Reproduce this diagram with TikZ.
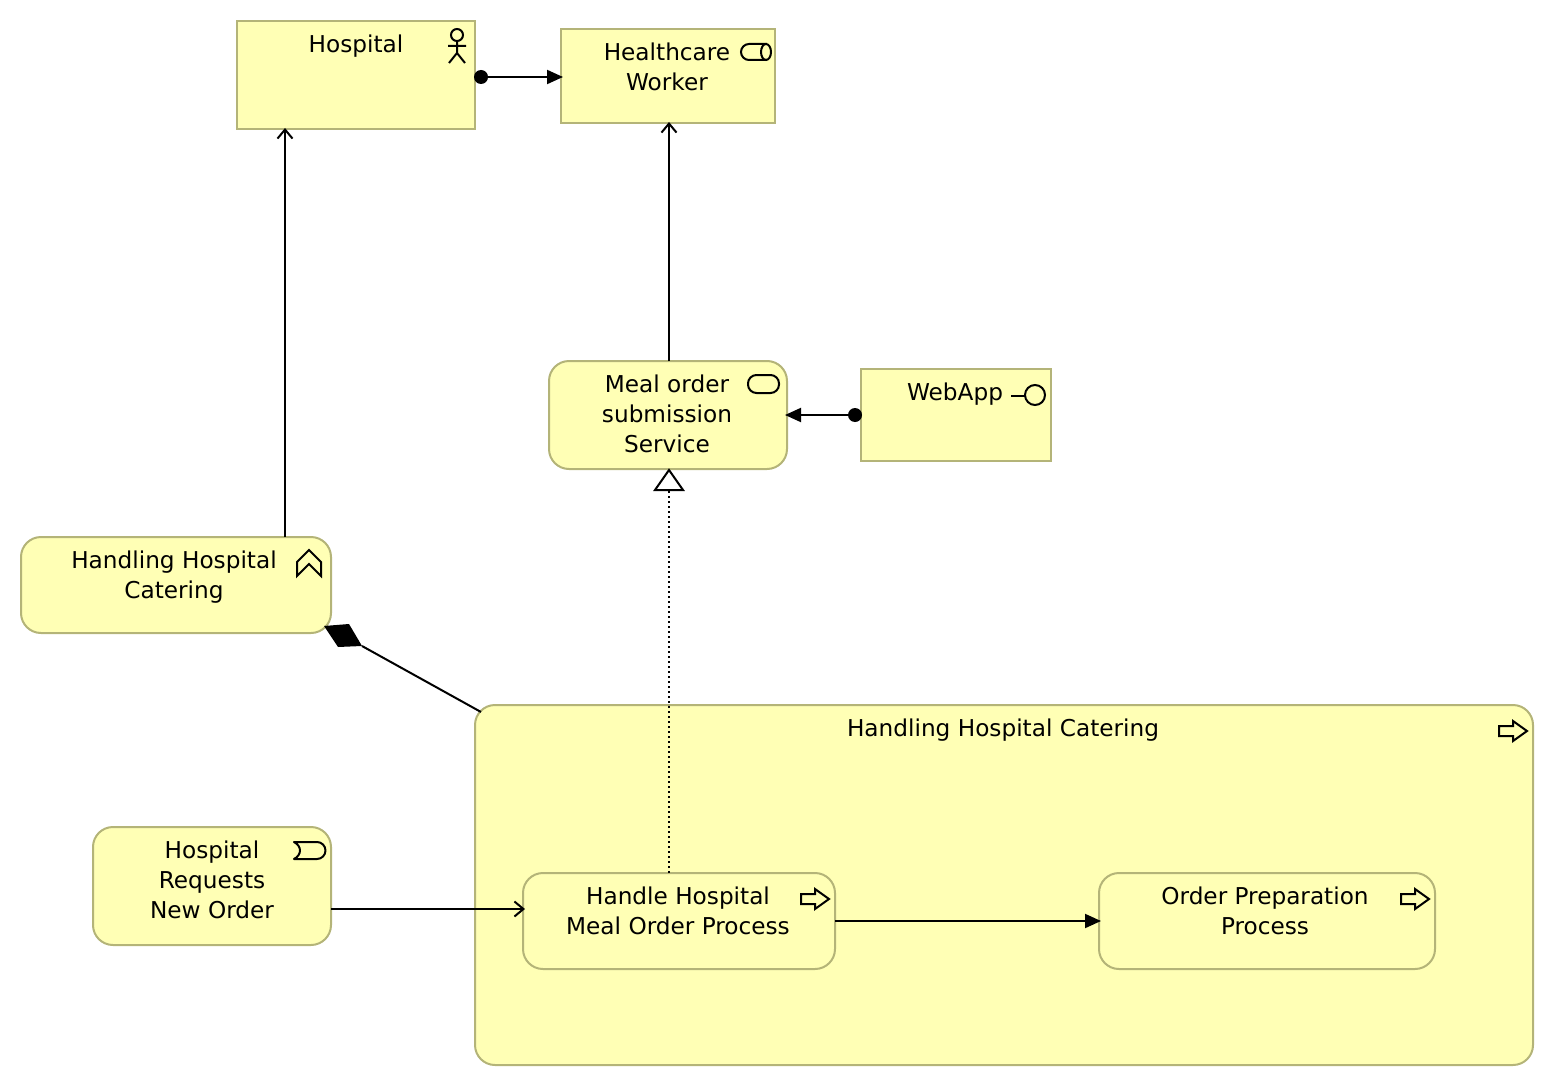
\documentclass[tikz,border=0pt]{standalone}
\usepackage{fontspec}
\setmainfont{DejaVu Sans}
\usetikzlibrary{arrows.meta,calc}
\definecolor{archfill}{HTML}{FFFFB5}
\definecolor{archline}{HTML}{B4B478}
\tikzset{
  x=1pt,y=-1pt,
  sq/.style={draw=archline,fill=archfill,line width=2pt,rectangle,inner sep=0pt,outer sep=0pt,anchor=north west},
  rd/.style={sq,rounded corners=20pt},
  big/.style={sq,rounded corners=20pt},
  txt/.style={anchor=north,align=center,inner sep=0pt,text=black,font=\fontsize{23.2}{30}\selectfont},
  conn/.style={draw=black,line width=2pt},
  opentip/.style={conn,-{Straight Barb[length=9pt,width=15pt,line width=2pt]}},
  solidtip/.style={conn,-{Triangle[length=16pt,width=14pt]}},
  dot/.style={circle,fill=black,inner sep=0pt,minimum size=14pt},
  icon/.style={draw=black,line width=2pt,fill=none,line join=miter},
}
\newcommand{\procicon}[2]{\draw[icon] (#1,#2-5) -- ++(14,0) -- ++(0,-5) -- ++(14,10) -- ++(-14,10) -- ++(0,-5) -- ++(-14,0) -- cycle;}
\begin{document}
\begin{tikzpicture}
\useasboundingbox (0,0) rectangle (1554,1086);
% elements
\node[sq,minimum width=238pt,minimum height=108pt] (hosp) at (237,21) {};
\node[sq,minimum width=214pt,minimum height=94pt] (worker) at (561,29) {};
\node[rd,minimum width=238pt,minimum height=108pt] (svc) at (549,361) {};
\node[sq,minimum width=190pt,minimum height=92pt] (web) at (861,369) {};
\node[rd,minimum width=310pt,minimum height=96pt] (func) at (21,537) {};
\node[rd,minimum width=238pt,minimum height=118pt] (evt) at (93,827) {};
\node[big,minimum width=1058pt,minimum height=360pt] (cat) at (475,705) {};
\node[rd,minimum width=312pt,minimum height=96pt] (handle) at (523,873) {};
\node[rd,minimum width=336pt,minimum height=96pt] (prep) at (1099,873) {};
% labels
\node[txt] (thosp) at (356,35) {Hospital};
\node[txt] (tworker) at (667,43) {Healthcare\\Worker};
\node[txt] (tsvc) at (667,375) {Meal order\\submission\\Service};
\node[txt] (tweb) at (955,383) {WebApp};
\node[txt] (tfunc) at (174,551) {Handling Hospital\\Catering};
\node[txt] (tevt) at (212,841) {Hospital\\Requests\\New Order};
\node[txt] (tcat) at (1003,719) {Handling Hospital Catering};
\node[txt] (thandle) at (678,887) {Handle Hospital\\Meal Order Process};
\node[txt] (tprep) at (1265,887) {Order Preparation\\Process};
% icons
\draw[icon] (457,35) circle (6);
\draw[icon] (457,41) -- (457,53) (448,46) -- (466,46) (449,63) -- (457,53) -- (465,63);
\draw[icon] (767,44) -- (749,44) arc[start angle=-90,end angle=-270,radius=8] -- (767,60);
\draw[icon] (766,52) ellipse (5 and 8);
\draw[icon,rounded corners=8.5pt] (748,375) rectangle (779,393);
\draw[icon] (1011,396) -- (1025,396);
\draw[icon] (1035,395) circle (10);
\draw[icon] (297,576) -- (297,562) -- (309,550) -- (321,562) -- (321,576) -- (309,564) -- cycle;
\draw[icon,line join=round] (294,842) -- (317,842) arc[start angle=-90,end angle=90,radius=8.5] -- (294,859) .. controls (302,855) and (302,846) .. (294,842) -- cycle;
\procicon{801}{899}
\procicon{1401}{899}
\procicon{1499}{731}
% connectors
\draw[opentip] ($(func.north west)+(264,0)$) -- ($(hosp.south west)+(48,-1)$);
\draw[opentip] ($(svc.north west)+(120,0)$) -- ($(worker.south west)+(108,-1)$);
\draw[solidtip] ($(hosp.south east)+(6,-52)$) -- ($(worker.south west)+(2,-46)$);
\node[dot] (d1) at (481,77) {};
\draw[solidtip] ($(web.north west)+(-6,46)$) -- ($(svc.north east)+(-2,54)$);
\node[dot] (d2) at (855,415) {};
\draw[conn,dash pattern=on 2pt off 3pt] ($(handle.north west)+(146,0)$) -- ($(svc.south west)+(120,21)$);
\draw[draw=black,line width=2pt,fill=white] ($(svc.south west)+(120,1)$) -- ++(14,20) -- ++(-28,0) -- cycle;
\draw[opentip] ($(evt.north east)+(0,82)$) -- ($(handle.north west)+(2,36)$);
\draw[solidtip] ($(handle.north east)+(0,48)$) -- ($(prep.north west)+(2,48)$);
\coordinate (dia) at ($(func.south east)+(31,13)$);
\draw[conn] (dia) -- ($(cat.north west)+(6,7)$);
\fill[black] ($(func.south east)+(-7,-7)$) -- ++(25,-2) -- ++(13,22) -- ++(-24,1) -- cycle;
\end{tikzpicture}
\end{document}
